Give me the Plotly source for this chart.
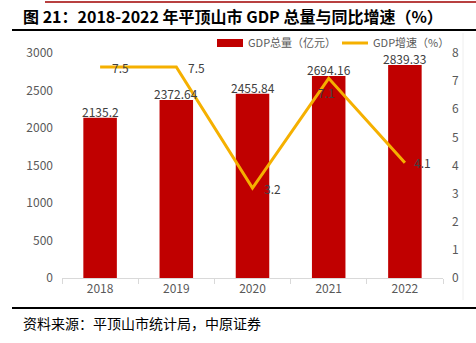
import plotly.graph_objects as go

years = ["2018", "2019", "2020", "2021", "2022"]
gdp_total = [2135.2, 2372.64, 2455.84, 2694.16, 2839.33]
gdp_growth = [7.5, 7.5, 3.2, 7.1, 4.1]
gdp_total_labels = ["2135.2", "2372.64", "2455.84", "2694.16", "2839.33"]
gdp_growth_labels = ["7.5", "7.5", "3.2", "7.1", "4.1"]
left_ticks = [0, 500, 1000, 1500, 2000, 2500, 3000]
right_ticks = [0, 1, 2, 3, 4, 5, 6, 7, 8]

# label placement (styling): pixel offsets of growth labels from their points
growth_label_shift = [(20, 0), (20, 0), (20, 0), (-2, -14), (18, 0)]

FONT = "Noto Sans CJK SC"
W, H = 476, 343
L, R, T, B = 62, 33, 53, 65
PW, PH = W - L - R, H - T - B

def px(x):
    return (x - L) / PW

def py(y):
    return (H - B - y) / PH

BAR_COLOR = "#C00000"
LINE_COLOR = "#F5B000"

fig = go.Figure()
fig.add_trace(go.Bar(
    x=years, y=gdp_total, name="GDP总量（亿元）",
    marker=dict(color=BAR_COLOR, line=dict(width=0)),
    width=0.44,
))
fig.add_trace(go.Scatter(
    x=years, y=gdp_growth, name="GDP增速（%）", yaxis="y2",
    mode="lines",
    line=dict(color=LINE_COLOR, width=3),
    cliponaxis=False,
))

# bar value labels, placed at each bar's data value (category index on x)
for i, (val, lab) in enumerate(zip(gdp_total, gdp_total_labels)):
    fig.add_annotation(x=i, y=val, xref="x", yref="y", text=lab, showarrow=False,
                       yanchor="bottom", yshift=-4,
                       font=dict(size=12, color="#404040", family=FONT))

# growth value labels
for i, (val, lab) in enumerate(zip(gdp_growth, gdp_growth_labels)):
    dx, dy = growth_label_shift[i]
    fig.add_annotation(x=i, y=val, xref="x", yref="y2", text=lab, showarrow=False,
                       xanchor="center", yanchor="middle", xshift=dx, yshift=dy,
                       font=dict(size=12, color="#404040", family=FONT))

fig.update_layout(
    width=W, height=H,
    margin=dict(l=L, r=R, t=T, b=B),
    paper_bgcolor="white", plot_bgcolor="white",
    font=dict(family=FONT, size=12, color="#595959"),
    showlegend=False,
    xaxis=dict(type="category", range=[-0.5, len(years) - 0.5], showgrid=False,
               showline=True, linecolor="#D9D9D9",
               ticks="outside", ticklen=5, tickcolor="#D9D9D9", tickson="boundaries",
               tickfont=dict(size=12, color="#595959")),
    yaxis=dict(range=[0, 3000], tickvals=left_ticks, showgrid=False, zeroline=False,
               showline=False, tickfont=dict(size=12, color="#595959"), ticklabelstandoff=8),
    yaxis2=dict(range=[0, 8], tickvals=right_ticks, overlaying="y", side="right",
                showgrid=False, zeroline=False, showline=False,
                tickfont=dict(size=12, color="#595959"), ticklabelstandoff=8),
)

shapes = [
    dict(type="line", xref="paper", yref="paper", x0=px(45), x1=px(476), y0=py(2), y1=py(2),
         line=dict(color="#A00000", width=1.5)),
    dict(type="line", xref="paper", yref="paper", x0=px(12), x1=px(476), y0=py(30), y1=py(30),
         line=dict(color="#000000", width=2)),
    dict(type="line", xref="paper", yref="paper", x0=px(12), x1=px(476), y0=py(308), y1=py(308),
         line=dict(color="#000000", width=2)),
    dict(type="line", xref="paper", yref="paper", x0=px(463), x1=px(463), y0=py(33), y1=py(300),
         line=dict(color="#EEEEEE", width=1)),
    # legend swatches
    dict(type="rect", xref="paper", yref="paper", x0=px(217), x1=px(243), y0=py(47), y1=py(39),
         fillcolor=BAR_COLOR, line=dict(width=0)),
    dict(type="line", xref="paper", yref="paper", x0=px(342), x1=px(368), y0=py(43), y1=py(43),
         line=dict(color=LINE_COLOR, width=3)),
]
fig.update_layout(shapes=shapes)

fig.add_annotation(xref="paper", yref="paper", x=px(246), y=py(42), xanchor="left", yanchor="middle",
                   text="GDP总量（亿元）", showarrow=False,
                   font=dict(size=11, color="#595959", family=FONT))
fig.add_annotation(xref="paper", yref="paper", x=px(371), y=py(42), xanchor="left", yanchor="middle",
                   text="GDP增速（%）", showarrow=False,
                   font=dict(size=11, color="#595959", family=FONT))

fig.add_annotation(xref="paper", yref="paper", x=px(21), y=py(16), xanchor="left", yanchor="middle",
                   text="<b>图 21：2018-2022 年平顶山市 GDP 总量与同比增速（%）</b>", showarrow=False,
                   font=dict(size=16, color="#000000", family=FONT))
fig.add_annotation(xref="paper", yref="paper", x=px(21), y=py(323), xanchor="left", yanchor="middle",
                   text="资料来源：平顶山市统计局，中原证券", showarrow=False,
                   font=dict(size=14, color="#000000", family=FONT))

fig.write_html("out.html")
